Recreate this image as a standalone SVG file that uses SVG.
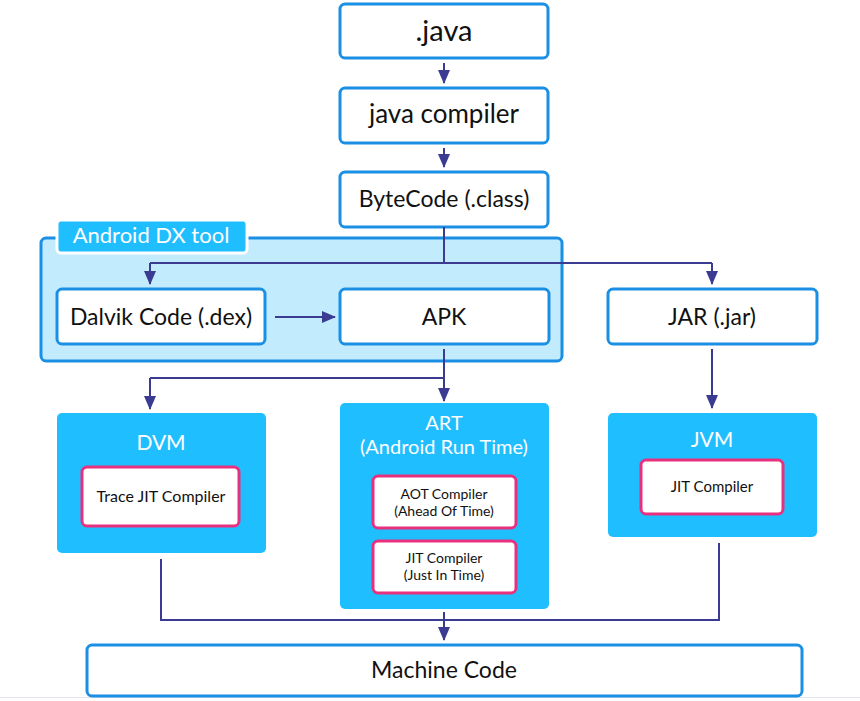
<svg xmlns="http://www.w3.org/2000/svg" width="860" height="701" viewBox="0 0 860 701">
<defs>
<marker id="ah" markerWidth="14" markerHeight="12" refX="13" refY="6" orient="auto" markerUnits="userSpaceOnUse">
<path d="M0,0 L14,6 L0,12 Z" fill="#3b3c91"/>
</marker>
<style>
.box{fill:#ffffff;stroke:#1a8fe3;stroke-width:3}
.vm{fill:#1fbeff}
.inner{fill:#ffffff;stroke:#e8307e;stroke-width:3}
.t{font-family:Lato,"Noto Sans","Liberation Sans",sans-serif;fill:#111;text-anchor:middle;dominant-baseline:central}
.w{fill:#ffffff}
.c{fill:none;stroke:#3b3c91;stroke-width:2}
</style>
</defs>
<rect width="860" height="701" fill="#ffffff"/>
<line x1="0" y1="697.5" x2="860" y2="697.5" stroke="#e4e6ee" stroke-width="1"/>

<g id="dx-tool">
<rect x="41" y="238" width="521" height="123" rx="5" fill="#c2ecfe" stroke="#1a8fe3" stroke-width="3"/>
<rect x="57" y="220" width="190" height="33" rx="4" fill="#1fbeff" stroke="#ffffff" stroke-width="3"/>
<text class="t w" x="151" y="234.5" font-size="22">Android DX tool</text>
</g>

<g id="java">
<rect class="box" x="340" y="4" width="208" height="54" rx="5"/>
<text class="t" x="444" y="29" font-size="29">.java</text>
</g>
<g id="javac">
<rect class="box" x="340" y="88" width="208" height="55" rx="5"/>
<text class="t" x="444" y="113" font-size="26">java compiler</text>
</g>
<g id="bytecode">
<rect class="box" x="340" y="172" width="208" height="55" rx="5"/>
<text class="t" x="444" y="197.5" font-size="23">ByteCode (.class)</text>
</g>
<g id="dalvik">
<rect class="box" x="57" y="289" width="208" height="55" rx="5"/>
<text class="t" x="161" y="315.5" font-size="23">Dalvik Code (.dex)</text>
</g>
<g id="apk">
<rect class="box" x="340" y="289" width="209" height="55" rx="5"/>
<text class="t" x="444" y="315.5" font-size="23">APK</text>
</g>
<g id="jar">
<rect class="box" x="608" y="289" width="209" height="55" rx="5"/>
<text class="t" x="712" y="315.5" font-size="23">JAR (.jar)</text>
</g>

<g id="dvm">
<rect class="vm" x="57" y="413" width="209" height="140" rx="5"/>
<text class="t w" x="161" y="441.5" font-size="21">DVM</text>
<rect class="inner" x="82" y="467" width="157" height="59" rx="5"/>
<text class="t" x="161" y="495" font-size="16">Trace JIT Compiler</text>
</g>
<g id="art">
<rect class="vm" x="340" y="403" width="209" height="206" rx="5"/>
<text class="t w" x="444" y="421.5" font-size="20">ART</text>
<text class="t w" x="444" y="445.5" font-size="20">(Android Run Time)</text>
<rect class="inner" x="373" y="476" width="143" height="52" rx="5"/>
<text class="t" x="444" y="493" font-size="14">AOT Compiler</text>
<text class="t" x="444" y="510" font-size="14">(Ahead Of Time)</text>
<rect class="inner" x="373" y="541" width="143" height="52" rx="5"/>
<text class="t" x="444" y="557" font-size="14">JIT Compiler</text>
<text class="t" x="444" y="574" font-size="14">(Just In Time)</text>
</g>
<g id="jvm">
<rect class="vm" x="608" y="413" width="209" height="124" rx="5"/>
<text class="t w" x="712" y="438.5" font-size="21">JVM</text>
<rect class="inner" x="641" y="460" width="142" height="54" rx="5"/>
<text class="t" x="712" y="486" font-size="15">JIT Compiler</text>
</g>
<g id="machine">
<rect class="box" x="87" y="645" width="715" height="51" rx="5"/>
<text class="t" x="444" y="668.5" font-size="23">Machine Code</text>
</g>

<g id="connectors">
<line class="c" x1="444" y1="63" x2="444" y2="83" marker-end="url(#ah)"/>
<line class="c" x1="444" y1="148" x2="444" y2="167" marker-end="url(#ah)"/>
<line class="c" x1="444" y1="227" x2="444" y2="263"/>
<polyline class="c" points="150,263 712,263"/>
<line class="c" x1="150" y1="263" x2="150" y2="284" marker-end="url(#ah)"/>
<line class="c" x1="712" y1="263" x2="712" y2="284" marker-end="url(#ah)"/>
<line class="c" x1="275" y1="317" x2="335" y2="317" marker-end="url(#ah)"/>
<line class="c" x1="444" y1="349" x2="444" y2="378"/>
<polyline class="c" points="150,378 444,378"/>
<line class="c" x1="150" y1="378" x2="150" y2="409" marker-end="url(#ah)"/>
<line class="c" x1="444" y1="378" x2="444" y2="401" marker-end="url(#ah)"/>
<line class="c" x1="712" y1="349" x2="712" y2="408" marker-end="url(#ah)"/>
<polyline class="c" points="161,559 161,620 719,620 719,543"/>
<line class="c" x1="444" y1="612" x2="444" y2="640" marker-end="url(#ah)"/>
</g>
</svg>
